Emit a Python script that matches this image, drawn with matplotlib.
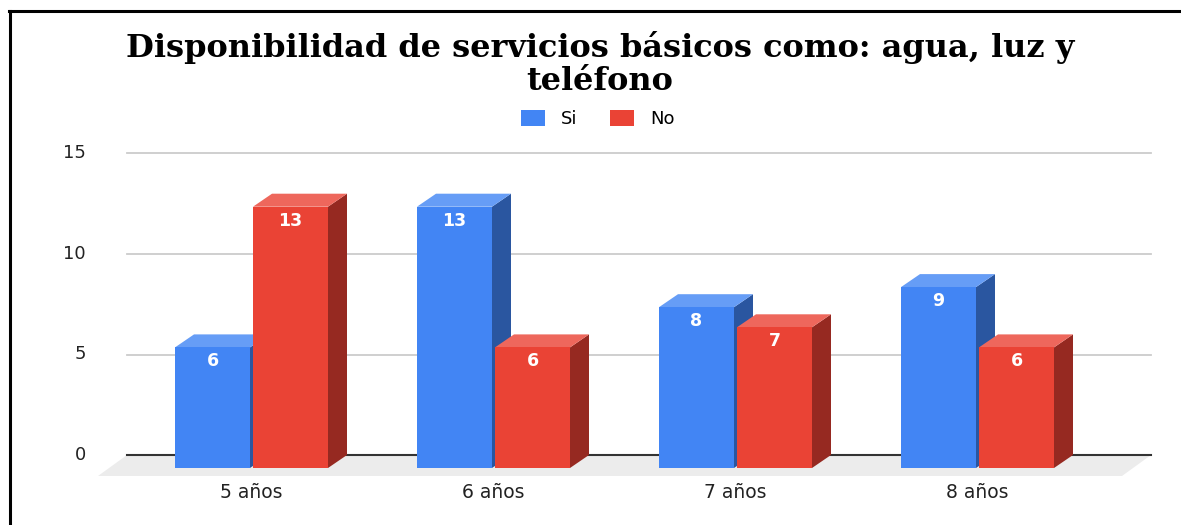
import numpy as np
import matplotlib
matplotlib.use("Agg")
import matplotlib.pyplot as plt
from matplotlib.patches import Polygon, Patch
from matplotlib.lines import Line2D

plt.rcParams['font.family'] = ['DejaVu Sans']

# data
categories = ["5 años", "6 años", "7 años", "8 años"]
si = [6, 13, 8, 9]
no = [13, 6, 7, 6]
yticks = [0, 5, 10, 15]
title_lines = ["Disponibilidad de servicios básicos como: agua, luz y", "teléfono"]

blue = ('#4285F4', '#669DF6', '#2A56A0')   # front, top, side
red = ('#EA4335', '#EE675C', '#962921')

W, H = 1181, 525
fig = plt.figure(figsize=(W / 100, H / 100), dpi=100)

# axes placement in pixels (front plane of the bars)
x0px, x1px, ytop, ybot = 40, 1170, 140, 480
ax = fig.add_axes([x0px / W, 1 - ybot / H, (x1px - x0px) / W, (ybot - ytop) / H])
ppx = 242.0      # pixels per category
ppy = 20.1       # pixels per unit
cx0 = 251.5      # pixel x of first category
y0px = 468       # pixel y of value 0 (front)
ax.set_xlim((x0px - cx0) / ppx, (x1px - cx0) / ppx)
ax.set_ylim(-(ybot - y0px) / ppy, (y0px - ytop) / ppy)
ax.axis('off')

DX, DY = 19 / ppx, 13 / ppy          # bar depth
bw = 75 / ppx
off = 39 / ppx

# floor
fl, fr = (98 - cx0) / ppx, (1122 - cx0) / ppx
fdx = 29 / ppx
fy = -8 / ppy
ax.add_patch(Polygon([(fl, fy), (fr, fy), (fr + fdx, DY), (fl + fdx, DY)],
                     closed=True, fc='#ececec', ec='none', zorder=1))

# grid on back wall
gl, gr = fl + fdx, fr + fdx
for v in yticks:
    if v == 0:
        ax.plot([gl, gr], [v + DY, v + DY], color='#333333', lw=1.5, zorder=2)
    else:
        ax.plot([gl, gr], [v + DY, v + DY], color='#cccccc', lw=1.3, zorder=2)
    ax.text((86 - cx0) / ppx, v + DY, str(v), ha='right', va='center',
            fontsize=13, color='#222222', clip_on=False)


def bar3d(xc, v, cols, z):
    l, r = xc - bw / 2, xc + bw / 2
    front, top, side = cols
    ax.add_patch(Polygon([(r, 0), (r + DX, DY), (r + DX, v + DY), (r, v)],
                         closed=True, fc=side, ec='none', zorder=z))
    ax.add_patch(Polygon([(l, v), (r, v), (r + DX, v + DY), (l + DX, v + DY)],
                         closed=True, fc=top, ec='none', zorder=z))
    ax.add_patch(Polygon([(l, 0), (r, 0), (r, v), (l, v)],
                         closed=True, fc=front, ec='none', zorder=z))
    ax.text(xc, v - 14 / ppy, str(v), ha='center', va='center', color='white',
            fontsize=12.5, fontweight='bold', zorder=z + 0.5)


z = 3
for i, cat in enumerate(categories):
    bar3d(i - off, si[i], blue, z)
    z += 1
    bar3d(i + off, no[i], red, z)
    z += 1
    ax.text(i, -(492 - y0px) / ppy, cat, ha='center', va='center',
            fontsize=13.5, color='#222222', clip_on=False)

# title and legend
fig.text(600 / W, 1 - 57 / H, title_lines[0], ha='center', va='baseline',
         family='DejaVu Serif', fontweight='bold', fontsize=23)
fig.text(600 / W, 1 - 90 / H, title_lines[1], ha='center', va='baseline',
         family='DejaVu Serif', fontweight='bold', fontsize=23)
handles = [Patch(fc=blue[0], ec='none', label='Si'), Patch(fc=red[0], ec='none', label='No')]
fig.legend(handles=handles, loc='center', bbox_to_anchor=(598 / W, 1 - 119 / H), ncol=2,
           frameon=False, fontsize=13, handlelength=1.33, handleheight=0.95,
           handletextpad=0.9, columnspacing=1.8)

# frame
fig.add_artist(Line2D([10 / W, 10 / W], [0, 1 - 11 / H], color='black', lw=2.2,
                      transform=fig.transFigure))
fig.add_artist(Line2D([9 / W, 1], [1 - 11 / H, 1 - 11 / H], color='black', lw=2.2,
                      transform=fig.transFigure))

fig.savefig("out.png", dpi=100)
